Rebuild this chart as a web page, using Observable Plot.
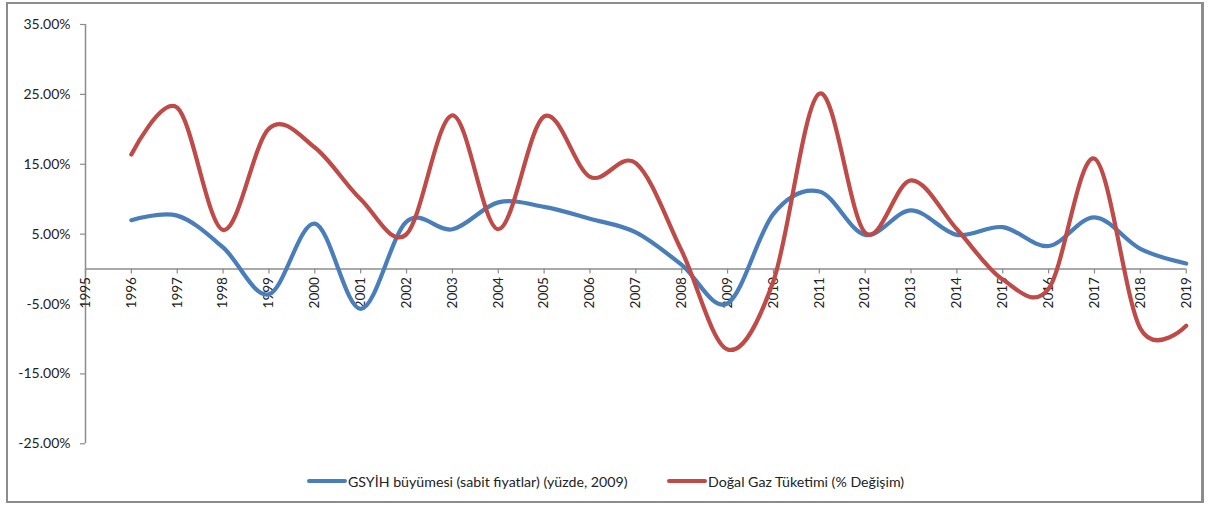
<!DOCTYPE html>
<html>
<head>
<meta charset="utf-8">
<script src="https://cdn.jsdelivr.net/npm/d3@7"></script>
<script src="https://cdn.jsdelivr.net/npm/@observablehq/plot@0.6"></script>
<style>
  html, body { margin: 0; padding: 0; background: #fff; }
  #wrap { position: relative; width: 1208px; height: 507px; overflow: hidden; font-family: Lato, "Open Sans", sans-serif; }
  #frame { position: absolute; left: 6px; top: 2px; width: 1198px; height: 501px; border: 2px solid #8c8c8c; border-right-width: 3px; box-sizing: border-box; }
  #chart { position: absolute; left: 0; top: 0; }
  #legend { position: absolute; left: 0; top: 472px; width: 1208px; height: 20px; font-size: 14.2px; color: #222; }
  .item { position: absolute; top: 0; display: flex; align-items: center; height: 18px; white-space: nowrap; }
  .swatch { width: 40px; height: 4.5px; border-radius: 2px; margin-right: 1px; }
</style>
</head>
<body>
<div id="wrap">
  <div id="frame"></div>
  <div id="chart"></div>
  <div id="legend"></div>
</div>
<script>
const years = [1996,1997,1998,1999,2000,2001,2002,2003,2004,2005,2006,2007,2008,2009,2010,2011,2012,2013,2014,2015,2016,2017,2018,2019];
const gdpGrowth = [7.0,7.65,3.1,-3.6,6.5,-5.7,6.8,5.7,9.55,8.9,7.2,5.25,0.6,-4.9,7.9,11.1,4.9,8.4,4.9,6.0,3.3,7.4,2.9,0.8];
const gasChange = [16.4,23.1,5.6,20.1,17.4,10.0,5.0,22.0,5.7,21.85,13.2,15.15,2.6,-11.5,-1.7,25.1,5.2,12.7,5.7,-1.5,-2.8,15.8,-8.5,-8.1];
const xTicks = [1995,1996,1997,1998,1999,2000,2001,2002,2003,2004,2005,2006,2007,2008,2009,2010,2011,2012,2013,2014,2015,2016,2017,2018,2019];
const yTicks = [-25,-15,-5,5,15,25,35];
const seriesNames = ["GSYİH büyümesi (sabit fiyatlar) (yüzde, 2009)", "Doğal Gaz Tüketimi (% Değişim)"];
const colors = ["#4a7ebb", "#be4b48"];

const gdpData = years.map((y, i) => ({year: y, value: gdpGrowth[i]}));
const gasData = years.map((y, i) => ({year: y, value: gasChange[i]}));

const H = 460, marginTop = 24, marginBottom = 16.7;
const yPx = v => marginTop + (35 - v) / 60 * (H - marginTop - marginBottom);
const axisShift = yPx(0) - (H - marginBottom);

const plot = Plot.plot({
  width: 1208,
  height: H,
  marginLeft: 85,
  marginRight: 22.3,
  marginTop,
  marginBottom,
  style: {fontFamily: "Lato, 'Open Sans', sans-serif", fontSize: "14px", color: "#222", background: "transparent"},
  x: {domain: [1995, 2019], axis: null, label: null},
  y: {domain: [-25, 35], axis: null, label: null},
  marks: [
    Plot.axisY({ticks: yTicks, tickFormat: d => d.toFixed(2) + "%", tickSize: 5, tickPadding: 10, stroke: "#8c8c8c", color: "#222", fontSize: 14, strokeWidth: 1.2, label: null}),
    Plot.ruleX([1995], {stroke: "#8c8c8c", strokeWidth: 1.5}),
    Plot.ruleY([0], {stroke: "#8c8c8c", strokeWidth: 1.5}),
    Plot.axisX({ticks: xTicks, tickFormat: d => String(d), tickRotate: -90, tickSize: 5, tickPadding: 3, dy: axisShift, stroke: "#8c8c8c", color: "#222", fontSize: 13.5, strokeWidth: 1.2, label: null}),
    Plot.line(gdpData, {x: "year", y: "value", stroke: colors[0], strokeWidth: 4.2, curve: "cardinal", tension: 0}),
    Plot.line(gasData, {x: "year", y: "value", stroke: colors[1], strokeWidth: 4.2, curve: "cardinal", tension: 0})
  ]
});
document.getElementById("chart").appendChild(plot);

const legend = document.getElementById("legend");
const lefts = [307, 667];
seriesNames.forEach((name, i) => {
  const item = document.createElement("div");
  item.className = "item";
  item.style.left = lefts[i] + "px";
  const sw = document.createElement("div");
  sw.className = "swatch";
  sw.style.background = colors[i];
  const t = document.createElement("span");
  t.textContent = name;
  item.appendChild(sw);
  item.appendChild(t);
  legend.appendChild(item);
});
</script>
</body>
</html>
